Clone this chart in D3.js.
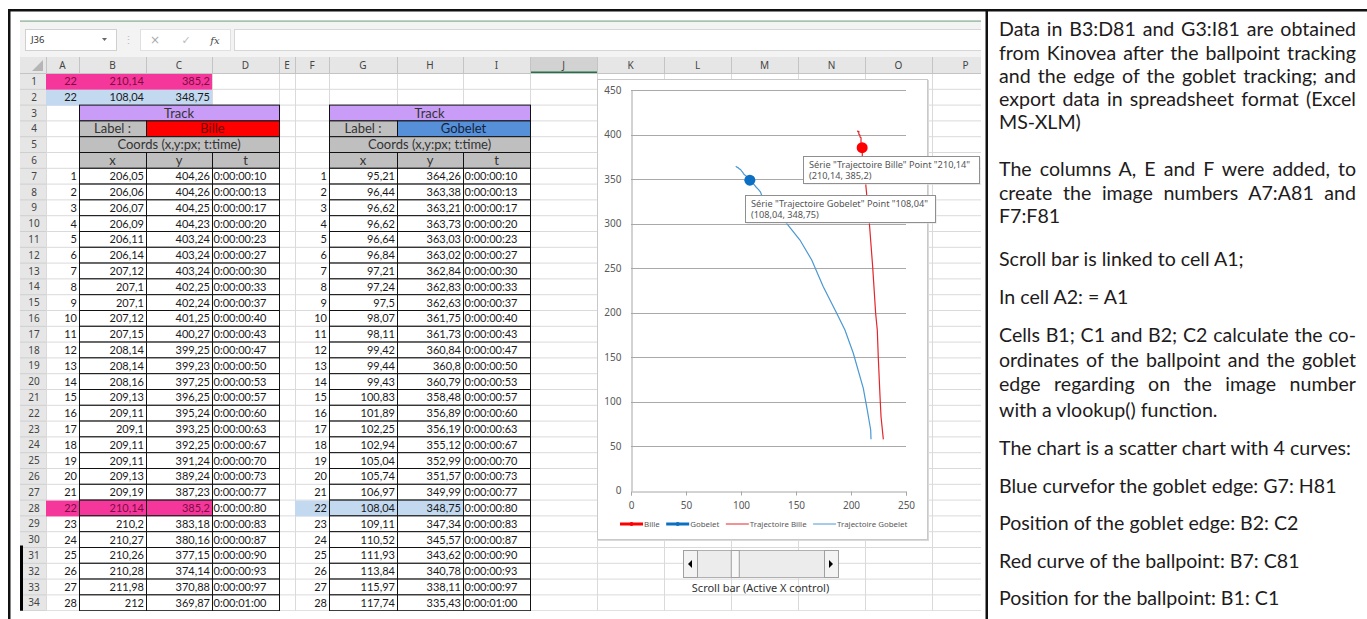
<!DOCTYPE html>
<html>
<head>
<meta charset="utf-8">
<script src="https://cdn.jsdelivr.net/npm/d3@7"></script>
<style>
body { margin: 0; background: #fff; }
#notes { position: absolute; left: 999px; top: 0; width: 357px; font-family: Lato, sans-serif; font-size: 19.6px; color: #1e1b1c; }
#notes div { position: absolute; left: 0; width: 357px; line-height: 22px; white-space: nowrap; }
</style>
</head>
<body>
<script>
// Kinovea tracking, frames shown in the sheet (rows 7 to 34)
var frames = [1, 2, 3, 4, 5, 6, 7, 8, 9, 10, 11, 12, 13, 14, 15, 16, 17, 18, 19, 20, 21, 22, 23, 24, 25, 26, 27, 28];
var times = ["0:00:00:10", "0:00:00:13", "0:00:00:17", "0:00:00:20", "0:00:00:23", "0:00:00:27", "0:00:00:30",
  "0:00:00:33", "0:00:00:37", "0:00:00:40", "0:00:00:43", "0:00:00:47", "0:00:00:50", "0:00:00:53", "0:00:00:57",
  "0:00:00:60", "0:00:00:63", "0:00:00:67", "0:00:00:70", "0:00:00:73", "0:00:00:77", "0:00:00:80", "0:00:00:83",
  "0:00:00:87", "0:00:00:90", "0:00:00:93", "0:00:00:97", "0:00:01:00"];
var billeX = [206.05, 206.06, 206.07, 206.09, 206.11, 206.14, 207.12, 207.1, 207.1, 207.12, 207.15, 208.14, 208.14, 208.16,
  209.13, 209.11, 209.1, 209.11, 209.11, 209.13, 209.19, 210.14, 210.2, 210.27, 210.26, 210.28, 211.98, 212];
var billeY = [404.26, 404.26, 404.25, 404.23, 403.24, 403.24, 403.24, 402.25, 402.24, 401.25, 400.27, 399.25, 399.23, 397.25,
  396.25, 395.24, 393.25, 392.25, 391.24, 389.24, 387.23, 385.2, 383.18, 380.16, 377.15, 374.14, 370.88, 369.87];
var gobeletX = [95.21, 96.44, 96.62, 96.62, 96.64, 96.84, 97.21, 97.24, 97.5, 98.07, 98.11, 99.42, 99.44, 99.43,
  100.83, 101.89, 102.25, 102.94, 105.04, 105.74, 106.97, 108.04, 109.11, 110.52, 111.93, 113.84, 115.97, 117.74];
var gobeletY = [364.26, 363.38, 363.21, 363.73, 363.03, 363.02, 362.84, 362.83, 362.63, 361.75, 361.73, 360.84, 360.8, 360.79,
  358.48, 356.89, 356.19, 355.12, 352.99, 351.57, 349.99, 348.75, 347.34, 345.57, 343.62, 340.78, 338.11, 335.43];

// rest of the curves (rows 35-81, not visible in the sheet)
var billeRestX = [213.6, 216.7, 219.7, 222.4, 223.9, 224.8, 226.4, 227.3, 229.4];
var billeRestY = [341.4, 300.3, 251.6, 199.2, 180.5, 149.8, 105.6, 83.1, 57.7];
var gobeletRestX = [120.3, 132.4, 141.5, 153.6, 164.3, 174.8, 187, 194.5, 202.1, 211.2, 214.8, 217.9, 218.2];
var gobeletRestY = [326.5, 311.5, 300.3, 281.5, 259.1, 229.1, 199.2, 180.5, 154.3, 115, 90.6, 68.2, 57.7];

var currentFrame = 22;   // A1, linked to the scroll bar
var lastFrame = 75;      // A81
var xTicks = [0, 50, 100, 150, 200, 250];
var yTicks = [0, 50, 100, 150, 200, 250, 300, 350, 400, 450];
var seriesNames = ["Bille", "Gobelet", "Trajectoire Bille", "Trajectoire Gobelet"];

var notes = [
  ["Data in B3:D81 and G3:I81 are obtained", "from Kinovea after the ballpoint tracking",
   "and the edge of the goblet tracking; and", "export data in spreadsheet format (Excel", "MS-XLM)"],
  ["The columns A, E and F were added, to", "create the image numbers A7:A81 and", "F7:F81"],
  ["Scroll bar is linked to cell A1;"],
  ["In cell A2: = A1"],
  ["Cells B1; C1 and B2; C2 calculate the co-", "ordinates of the ballpoint and the goblet",
   "edge regarding on the image number", "with a vlookup() function."],
  ["The chart is a scatter chart with 4 curves:"],
  ["Blue curvefor the goblet edge: G7: H81"],
  ["Position of the goblet edge: B2: C2"],
  ["Red curve of the ballpoint: B7: C81"],
  ["Position for the ballpoint: B1: C1"]
];

//************** layout */
var W = 1367, H = 619;
var colNames = ["A", "B", "C", "D", "E", "F", "G", "H", "I", "J", "K", "L", "M", "N", "O", "P"];
var colEdges = [46, 79, 146, 212, 279, 295, 329, 397, 463, 530, 597, 664, 731, 798, 865, 932, 999];
var hdrTop = 57, rowTop = 73.5, rowH = 15.8, nRows = 34;
var noteY = [30, 54, 77, 100, 123, 170, 194, 217, 260, 298, 336, 361, 385, 411, 449, 487, 524, 562, 599];

function ry(r) { return rowTop + (r - 1) * rowH; }
function colL(c) { return colEdges[colNames.indexOf(c)]; }
function colR(c) { return colEdges[colNames.indexOf(c) + 1]; }
function fmt(v) { return String(v).replace(".", ","); }

var svg = d3.select("body")
    .append("svg")
    .attr("width", W)
    .attr("height", H)
    .style("position", "absolute")
    .style("left", 0)
    .style("top", 0)
    .style("font-family", "Lato, sans-serif");

svg.append("defs").append("clipPath").attr("id", "sheetClip")
    .append("rect").attr("x", 20).attr("y", 12).attr("width", 961).attr("height", 599);

var sheet = svg.append("g").attr("clip-path", "url(#sheetClip)");

//************** ribbon + formula bar */
sheet.append("rect").attr("x", 20).attr("y", 20.5).attr("width", 961).attr("height", 1.2).attr("fill", "#7fa88e");
sheet.append("rect").attr("x", 20).attr("y", 22).attr("width", 961).attr("height", 35).attr("fill", "#f3f3f3");
sheet.append("rect").attr("x", 25.5).attr("y", 29.5).attr("width", 91).attr("height", 21)
    .attr("fill", "#fff").attr("stroke", "#d0d0d0");
sheet.append("text").attr("x", 31).attr("y", 40).attr("dy", "0.35em")
    .style("font-family", "Noto Sans").style("font-size", "9.5px").attr("fill", "#333").text("J36");
sheet.append("path").attr("d", "M102,38 L107,38 L104.5,41 Z").attr("fill", "#666");
sheet.append("text").attr("x", 128).attr("y", 40).attr("dy", "0.35em").attr("text-anchor", "middle")
    .style("font-size", "11px").attr("fill", "#bbb").text("⋮");
sheet.append("rect").attr("x", 140.5).attr("y", 29.5).attr("width", 90).attr("height", 21)
    .attr("fill", "#fff").attr("stroke", "#e0e0e0");
sheet.append("text").attr("x", 155).attr("y", 40).attr("dy", "0.35em").attr("text-anchor", "middle")
    .style("font-family", "DejaVu Sans").style("font-size", "12px").attr("fill", "#aaa").text("×");
sheet.append("text").attr("x", 186).attr("y", 40).attr("dy", "0.35em").attr("text-anchor", "middle")
    .style("font-family", "DejaVu Sans").style("font-size", "11px").attr("fill", "#bbb").text("✓");
sheet.append("text").attr("x", 215).attr("y", 40).attr("dy", "0.35em").attr("text-anchor", "middle")
    .style("font-family", "DejaVu Serif").style("font-style", "italic").style("font-size", "10px")
    .attr("fill", "#444").text("fx");
sheet.append("rect").attr("x", 234.5).attr("y", 29.5).attr("width", 760).attr("height", 21)
    .attr("fill", "#fff").attr("stroke", "#d6d6d6");

//************** headers + gridlines */
sheet.append("rect").attr("x", 20).attr("y", hdrTop).attr("width", 961).attr("height", rowTop - hdrTop)
    .attr("fill", "#e6e6e6");
sheet.append("rect").attr("x", 20).attr("y", rowTop).attr("width", 46 - 20).attr("height", nRows * rowH)
    .attr("fill", "#e6e6e6");
sheet.append("rect").attr("x", colL("J")).attr("y", hdrTop).attr("width", colR("J") - colL("J"))
    .attr("height", rowTop - hdrTop).attr("fill", "#d2d2d2");
sheet.append("rect").attr("x", colL("J")).attr("y", rowTop - 2).attr("width", colR("J") - colL("J"))
    .attr("height", 2).attr("fill", "#217346");
sheet.append("path").attr("d", "M43,60 L43,71 L32,71 Z").attr("fill", "#b5b5b5");

// sheet gridlines
sheet.selectAll("line.gv").data(colEdges).enter().append("line").attr("class", "gv")
    .attr("x1", function (d) { return d + 0.5; }).attr("x2", function (d) { return d + 0.5; })
    .attr("y1", rowTop).attr("y2", ry(nRows + 1))
    .attr("stroke", "#dadada");
sheet.selectAll("line.gh").data(d3.range(1, nRows + 2)).enter().append("line").attr("class", "gh")
    .attr("x1", 46).attr("x2", 981)
    .attr("y1", function (d) { return ry(d); }).attr("y2", function (d) { return ry(d); })
    .attr("stroke", "#dadada");
// header separators
sheet.selectAll("line.hv").data(colEdges).enter().append("line").attr("class", "hv")
    .attr("x1", function (d) { return d + 0.5; }).attr("x2", function (d) { return d + 0.5; })
    .attr("y1", hdrTop).attr("y2", rowTop)
    .attr("stroke", "#c4c4c4");
sheet.selectAll("line.rh").data(d3.range(1, nRows + 2)).enter().append("line").attr("class", "rh")
    .attr("x1", 20).attr("x2", 46)
    .attr("y1", function (d) { return ry(d); }).attr("y2", function (d) { return ry(d); })
    .attr("stroke", "#cfcfcf");
sheet.append("line").attr("x1", 20).attr("x2", 981).attr("y1", rowTop).attr("y2", rowTop).attr("stroke", "#c4c4c4");

sheet.selectAll("text.ch").data(colNames).enter().append("text").attr("class", "ch")
    .attr("x", function (d) { return (colL(d) + colR(d)) / 2; })
    .attr("y", (hdrTop + rowTop) / 2).attr("dy", "0.35em").attr("text-anchor", "middle")
    .style("font-family", "Noto Sans").style("font-size", "10px").attr("fill", "#444")
    .text(function (d) { return d; });
sheet.selectAll("text.rn").data(d3.range(1, nRows + 1)).enter().append("text").attr("class", "rn")
    .attr("x", 34).attr("y", function (d) { return ry(d) + rowH / 2; }).attr("dy", "0.35em")
    .attr("text-anchor", "middle")
    .style("font-family", "Noto Sans").style("font-size", "10px").attr("fill", "#444")
    .text(function (d) { return d; });

//************** cells */
var pink = "#f5379c", pinkInk = "#7b0c3f", paleBlue = "#c2d9f0";

function cellText(x0, w, y0, txt, anchor, ink, size) {
    var tx = anchor === "middle" ? x0 + w / 2 : anchor === "end" ? x0 + w - 2 : x0 + 1.5;
    sheet.append("text").attr("x", tx).attr("y", y0 + rowH / 2).attr("dy", "0.36em")
        .attr("text-anchor", anchor).attr("fill", ink || "#1a1a1a")
        .style("font-size", (size || 11) + "px").text(txt);
}
function fillCell(x0, y0, w, fill) {
    sheet.append("rect").attr("x", x0).attr("y", y0).attr("width", w).attr("height", rowH).attr("fill", fill);
}
function box(x0, y0, w, fill, txt, anchor, ink, size) {
    sheet.append("rect").attr("x", x0 + 0.5).attr("y", y0).attr("width", w).attr("height", rowH)
        .attr("fill", fill).attr("stroke", "#111").attr("stroke-width", 1);
    if (txt != null) cellText(x0, w, y0, txt, anchor, ink, size);
}

// A1:C1 and A2:C2 (vlookup of the current frame)
var k0 = frames.indexOf(currentFrame);
[[1, pink, pinkInk, billeX[k0], billeY[k0]], [2, paleBlue, "#1a1a1a", gobeletX[k0], gobeletY[k0]]].forEach(function (r) {
    fillCell(colL("A"), ry(r[0]) + 0.5, colR("C") - colL("A"), r[1]);
    cellText(colL("A"), colR("A") - colL("A"), ry(r[0]), currentFrame, "end", r[2]);
    cellText(colL("B"), colR("B") - colL("B"), ry(r[0]), fmt(r[3]), "end", r[2]);
    cellText(colL("C"), colR("C") - colL("C"), ry(r[0]), fmt(r[4]), "end", r[2]);
});

function drawTrack(c0, label, labelFill, labelInk, xs, ys, hiFill, hiInk) {
    var i0 = colNames.indexOf(c0);
    var xL = colEdges[i0], x1 = colEdges[i0 + 1], x2 = colEdges[i0 + 2], xR = colEdges[i0 + 3];
    var idxL = colEdges[i0 - 1];
    var hs = 13;
    box(xL, ry(3), xR - xL, "#c89cf7", "Track", "middle", "#333", hs);
    box(xL, ry(4), x1 - xL, "#bfbfbf", "Label :", "middle", "#333", hs);
    box(x1, ry(4), xR - x1, labelFill, label, "middle", labelInk, hs);
    box(xL, ry(5), xR - xL, "#bfbfbf", "Coords (x,y:px; t:time)", "middle", "#333", hs);
    box(xL, ry(6), x1 - xL, "#bfbfbf", "x", "middle", "#333", hs);
    box(x1, ry(6), x2 - x1, "#bfbfbf", "y", "middle", "#333", hs);
    box(x2, ry(6), xR - x2, "#bfbfbf", "t", "middle", "#333", hs);
    frames.forEach(function (f, k) {
        var r = 7 + k, hi = f === currentFrame;
        var ink = hi ? hiInk : "#1a1a1a";
        if (hi) fillCell(idxL, ry(r) + 0.5, xL - idxL, hiFill);
        cellText(idxL, xL - idxL, ry(r), f, "end", ink);
        box(xL, ry(r), x1 - xL, hi ? hiFill : "#fff", fmt(xs[k]), "end", ink);
        box(x1, ry(r), x2 - x1, hi ? hiFill : "#fff", fmt(ys[k]), "end", ink);
        box(x2, ry(r), xR - x2, "#fff", times[k], "start", "#1a1a1a");
    });
}
drawTrack("B", "Bille", "#ff0000", "#6e0000", billeX, billeY, pink, pinkInk);
drawTrack("G", "Gobelet", "#5590d8", "#14233d", gobeletX, gobeletY, paleBlue, "#1a1a1a");

// black bar on the left (rows 31-34)
sheet.append("rect").attr("x", 20).attr("y", ry(31) - 2).attr("width", 3).attr("height", ry(35) - ry(31) + 2)
    .attr("fill", "#000");

//************** chart */
var x = d3.scaleLinear().domain([0, 250]).range([631, 906]);
var y = d3.scaleLinear().domain([0, 450]).range([490.7, 90]);

var chart = sheet.append("g");
chart.append("rect").attr("x", 598).attr("y", 80).attr("width", 331).attr("height", 461).attr("fill", "#d9d9d9");
chart.append("rect").attr("x", 597.5).attr("y", 79.5).attr("width", 330).attr("height", 460)
    .attr("fill", "#fff").attr("stroke", "#c9c9c9");

chart.selectAll("line.grid").data(yTicks.slice(1)).enter().append("line").attr("class", "grid")
    .attr("x1", x(0)).attr("x2", x(250))
    .attr("y1", function (d) { return Math.round(y(d)) + 0.5; })
    .attr("y2", function (d) { return Math.round(y(d)) + 0.5; })
    .attr("stroke", "#a9a9a9");

var yAxis = chart.append("g").attr("transform", "translate(" + (Math.round(x(0)) + 0.5) + ",0)")
    .call(d3.axisLeft(y).tickValues(yTicks).tickSize(0).tickPadding(10));
var xAxis = chart.append("g").attr("transform", "translate(0," + (Math.round(y(0)) + 0.5) + ")")
    .call(d3.axisBottom(x).tickValues(xTicks).tickSize(4).tickPadding(6));
[yAxis, xAxis].forEach(function (a) {
    a.select(".domain").attr("stroke", "#a6a6a6");
    a.selectAll(".tick line").attr("stroke", "#a6a6a6");
    a.selectAll("text").attr("fill", "#595959").style("font-family", "Noto Sans").style("font-size", "10px");
});

var line = d3.line()
    .x(function (d) { return x(d[0]); })
    .y(function (d) { return y(d[1]); });

var billePts = d3.zip(billeX.concat(billeRestX), billeY.concat(billeRestY));
var gobeletPts = d3.zip(gobeletX.concat(gobeletRestX), gobeletY.concat(gobeletRestY));

var red = "#e3262b", blue = "#4a98d4", redMark = "#ff0000", blueMark = "#0b6fc3";

chart.append("path").attr("d", line(billePts)).attr("fill", "none").attr("stroke", red).attr("stroke-width", 1.2);
chart.append("path").attr("d", line(gobeletPts)).attr("fill", "none").attr("stroke", blue).attr("stroke-width", 1.2);

chart.append("circle").attr("cx", x(billeX[k0])).attr("cy", y(billeY[k0])).attr("r", 5.5).attr("fill", redMark);
chart.append("circle").attr("cx", x(gobeletX[k0])).attr("cy", y(gobeletY[k0])).attr("r", 5.5).attr("fill", blueMark);

// tooltips
function tooltip(x0, y0, w, l1, l2) {
    var g = sheet.append("g");
    g.append("rect").attr("x", x0 + 1.5).attr("y", y0 + 1.5).attr("width", w).attr("height", 27).attr("fill", "#e2e2e2");
    g.append("rect").attr("x", x0 + 0.5).attr("y", y0 + 0.5).attr("width", w).attr("height", 27)
        .attr("fill", "#fff").attr("stroke", "#8f8f8f");
    g.append("text").attr("x", x0 + 6).attr("y", y0 + 8.5).attr("dy", "0.35em")
        .style("font-family", "Noto Sans").style("font-size", "9.2px").attr("fill", "#555").text(l1);
    g.append("text").attr("x", x0 + 6).attr("y", y0 + 19.5).attr("dy", "0.35em")
        .style("font-family", "Noto Sans").style("font-size", "9.2px").attr("fill", "#555").text(l2);
}
tooltip(803, 156, 176, 'Série "' + seriesNames[2] + '" Point "' + fmt(billeX[k0]) + '"',
    "(" + fmt(billeX[k0]) + ", " + fmt(billeY[k0]) + ")");
tooltip(745, 195, 190, 'Série "' + seriesNames[3] + '" Point "' + fmt(gobeletX[k0]) + '"',
    "(" + fmt(gobeletX[k0]) + ", " + fmt(gobeletY[k0]) + ")");

// legend
var legendStyle = [
    { color: redMark, width: 3, mark: true },
    { color: blueMark, width: 3, mark: true },
    { color: red, width: 1, mark: false },
    { color: blue, width: 1, mark: false }
];
var lx = 620, ly = 524;
seriesNames.forEach(function (name, i) {
    var s = legendStyle[i];
    chart.append("line").attr("x1", lx).attr("x2", lx + 23).attr("y1", ly).attr("y2", ly)
        .attr("stroke", s.color).attr("stroke-width", s.width);
    if (s.mark) chart.append("circle").attr("cx", lx + 11.5).attr("cy", ly).attr("r", 2).attr("fill", s.color);
    var t = chart.append("text").attr("x", lx + 24).attr("y", ly).attr("dy", "0.35em")
        .style("font-family", "Noto Sans").style("font-size", "7.9px").attr("fill", "#595959").text(name);
    lx = lx + 24 + t.node().getComputedTextLength() + 6.5;
});

//************** scroll bar */
var sbL = 683, sbR = 838, sbTop = 550, sbH = 27, btn = 14, thumbW = 8;
var scroll = sheet.append("g");
scroll.append("rect").attr("x", sbL + 0.5).attr("y", sbTop + 0.5).attr("width", sbR - sbL).attr("height", sbH)
    .attr("fill", "#ececec").attr("stroke", "#b0b0b0");
[sbL, sbR - btn].forEach(function (bx) {
    scroll.append("rect").attr("x", bx + 0.5).attr("y", sbTop + 0.5).attr("width", btn).attr("height", sbH)
        .attr("fill", "#f3f3f3").attr("stroke", "#a0a0a0");
});
scroll.append("path").attr("d", "M" + (sbL + 5) + "," + (sbTop + 14) + " l4,-4 l0,8 Z").attr("fill", "#000");
scroll.append("path").attr("d", "M" + (sbR - 5) + "," + (sbTop + 14) + " l-4,-4 l0,8 Z").attr("fill", "#000");
var thumbX = d3.scaleLinear().domain([1, lastFrame]).range([sbL + btn, sbR - btn - thumbW]);
scroll.append("rect").attr("x", thumbX(currentFrame) + 0.5).attr("y", sbTop + 0.5).attr("width", thumbW).attr("height", sbH)
    .attr("fill", "#f8f8f8").attr("stroke", "#a0a0a0");
scroll.append("text").attr("x", (sbL + sbR) / 2).attr("y", 588).attr("dy", "0.35em").attr("text-anchor", "middle")
    .style("font-family", "Noto Sans").style("font-size", "11px").attr("fill", "#333")
    .text("Scroll bar (Active X control)");

//************** frame */
svg.append("rect").attr("x", 8).attr("y", 9).attr("width", W - 8).attr("height", 2.5).attr("fill", "#111");
svg.append("rect").attr("x", 8).attr("y", 9).attr("width", 2.5).attr("height", H - 9).attr("fill", "#111");
svg.append("rect").attr("x", 985.5).attr("y", 9).attr("width", 2.5).attr("height", H - 9).attr("fill", "#111");

//************** notes (justified lines: spread the spaces) */
var notesBox = d3.select("body").append("div").attr("id", "notes");
var n = 0;
notes.forEach(function (para) {
    para.forEach(function (txt, i) {
        var span = notesBox.append("div")
            .style("top", (noteY[n] - 12) + "px")
            .append("span").text(txt);
        if (i < para.length - 1) {
            var w = span.node().getBoundingClientRect().width;
            var gaps = txt.split(" ").length - 1;
            span.style("word-spacing", ((357 - w) / gaps) + "px");
        }
        n++;
    });
});
</script>
</body>
</html>
